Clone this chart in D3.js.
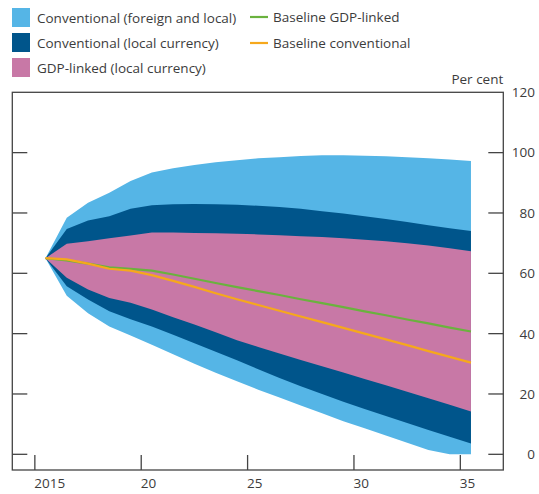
<!DOCTYPE html>
<html>
<head>
<meta charset="utf-8">
<script src="https://cdn.jsdelivr.net/npm/d3@7"></script>
<style>
	body { margin: 0; background: #fff; }
	svg { display: block; font-family: "Open Sans", sans-serif; }
	text { fill: #3c3c3c; }
</style>
</head>
<body>
<svg id="chart" width="539" height="494"></svg>
<script>
/* Data: debt projections, per cent of GDP */
const years = d3.range(2015, 2036);

const convAllHigh = [65, 78.4, 83.4, 86.7, 90.6, 93.4, 94.8, 95.9, 96.8, 97.5, 98.1, 98.5, 98.9, 99.1, 99.1, 99.0, 98.8, 98.5, 98.1, 97.7, 97.2];
const convAllLow = [65, 52.6, 46.8, 42.4, 39.4, 36.3, 33.2, 30.0, 27.0, 24.2, 21.4, 18.8, 16.2, 13.6, 11.0, 8.6, 6.2, 3.8, 1.4, 0, 0];
const convLocalHigh = [65, 74.7, 77.5, 78.9, 81.4, 82.6, 82.9, 83.0, 82.9, 82.7, 82.4, 82.0, 81.4, 80.6, 79.8, 78.9, 78.0, 77.0, 75.9, 74.9, 74.0];
const convLocalLow = [65, 55.7, 51.3, 47.4, 44.8, 42.4, 39.6, 36.8, 34.0, 31.2, 28.2, 25.3, 22.6, 20.0, 17.4, 15.0, 12.7, 10.4, 8.1, 5.8, 3.6];
const gdpHigh = [65, 69.8, 70.6, 71.6, 72.5, 73.5, 73.5, 73.4, 73.3, 73.1, 72.9, 72.6, 72.3, 72.0, 71.6, 71.1, 70.6, 70.0, 69.2, 68.3, 67.3];
const gdpLow = [65, 58.5, 54.6, 51.8, 50.2, 48.0, 45.4, 43.0, 40.5, 37.8, 35.6, 33.4, 31.3, 29.2, 27.1, 25.0, 22.9, 20.7, 18.6, 16.4, 14.2];
const baselineGdp = [65, 64.3, 63.2, 62.0, 61.5, 60.9, 59.6, 58.2, 56.8, 55.4, 54.1, 52.8, 51.4, 50.1, 48.8, 47.4, 46.1, 44.7, 43.4, 42.0, 40.7];
const baselineConv = [65, 64.6, 63.2, 61.5, 60.9, 59.4, 57.5, 55.5, 53.4, 51.4, 49.5, 47.6, 45.7, 43.8, 41.9, 40.0, 38.1, 36.2, 34.2, 32.3, 30.4];

const xTicks = [2015, 2020, 2025, 2030, 2035];
const xTickLabels = ["2015", "20", "25", "30", "35"];
const yTicks = [0, 20, 40, 60, 80, 100, 120];

const bandKeys = ["Conventional (foreign and local)", "Conventional (local currency)", "GDP-linked (local currency)"];
const lineKeys = ["Baseline GDP-linked", "Baseline conventional"];

/* Styles */
const colors = {
	convAll: "#55b5e6",
	convLocal: "#00558b",
	gdp: "#c878a6",
	lineGdp: "#6ab23e",
	lineConv: "#f6a81c",
	axis: "#444"
};

const svg = d3.select("#chart");
const frame = { left: 12.3, right: 503.3, top: 92.3, bottom: 470 };

const xScale = d3.scaleLinear()
	.domain([2013.94, 2037.02])
	.range([frame.left, frame.right]);

const yScale = d3.scaleLinear()
	.domain([-5.2, 120])
	.range([frame.bottom, frame.top]);

// points sit in the middle of each year
const px = (i) => xScale(years[i] + 0.5);

const band = (low, high) => d3.area()
	.x((d, i) => px(i))
	.y0((d, i) => yScale(low[i]))
	.y1((d, i) => yScale(high[i]))(years);

const line = (vals) => d3.line()
	.x((d, i) => px(i))
	.y((d, i) => yScale(vals[i]))(years);

const plot = svg.append("g").attr("class", "plot");

plot.append("path").attr("d", band(convAllLow, convAllHigh)).attr("fill", colors.convAll);
plot.append("path").attr("d", band(convLocalLow, convLocalHigh)).attr("fill", colors.convLocal);
plot.append("path").attr("d", band(gdpLow, gdpHigh)).attr("fill", colors.gdp);

plot.append("path").attr("d", line(baselineGdp))
	.attr("fill", "none").attr("stroke", colors.lineGdp).attr("stroke-width", 2.2);
plot.append("path").attr("d", line(baselineConv))
	.attr("fill", "none").attr("stroke", colors.lineConv).attr("stroke-width", 2.2);

/* Frame and ticks */
const axes = svg.append("g").attr("class", "axes")
	.attr("stroke", colors.axis).attr("stroke-width", 1.3).attr("fill", "none");

axes.append("rect")
	.attr("x", frame.left).attr("y", frame.top)
	.attr("width", frame.right - frame.left)
	.attr("height", frame.bottom - frame.top);

const tickLen = 15;

axes.selectAll(".ytl").data(yTicks.slice(0, -1)).enter()
	.append("line")
	.attr("x1", frame.left).attr("x2", frame.left + tickLen)
	.attr("y1", (d) => yScale(d)).attr("y2", (d) => yScale(d));

axes.selectAll(".ytr").data(yTicks.slice(0, -1)).enter()
	.append("line")
	.attr("x1", frame.right - tickLen).attr("x2", frame.right)
	.attr("y1", (d) => yScale(d)).attr("y2", (d) => yScale(d));

axes.selectAll(".xt").data(xTicks).enter()
	.append("line")
	.attr("x1", (d) => xScale(d)).attr("x2", (d) => xScale(d))
	.attr("y1", frame.bottom - tickLen).attr("y2", frame.bottom);

/* Tick labels */
svg.append("g").selectAll("text").data(yTicks).enter()
	.append("text")
	.attr("x", 535)
	.attr("y", (d) => yScale(d))
	.attr("dy", "0.36em")
	.attr("text-anchor", "end")
	.style("font-size", "13.5px")
	.text((d) => d);

svg.append("g").selectAll("text").data(xTicks).enter()
	.append("text")
	.attr("x", (d) => xScale(d) - 0.5)
	.attr("y", 488)
	.style("font-size", "13.5px")
	.text((d, i) => xTickLabels[i]);

svg.append("text")
	.attr("x", frame.right)
	.attr("y", 84)
	.attr("text-anchor", "end")
	.style("font-size", "13.5px")
	.text("Per cent");

/* Legend */
const bandColors = [colors.convAll, colors.convLocal, colors.gdp];
const legendBands = svg.append("g").attr("class", "legend")
	.selectAll("g").data(bandKeys).enter()
	.append("g")
	.attr("transform", (d, i) => "translate(12," + (8 + i * 25) + ")");

legendBands.append("rect")
	.attr("width", 18).attr("height", 19)
	.attr("fill", (d, i) => bandColors[i]);

legendBands.append("text")
	.attr("x", 25).attr("y", 14.5)
	.style("font-size", "13.5px")
	.text((d) => d);

const lineColors = [colors.lineGdp, colors.lineConv];
const legendLines = svg.append("g").attr("class", "legend")
	.selectAll("g").data(lineKeys).enter()
	.append("g")
	.attr("transform", (d, i) => "translate(250," + (17 + i * 26) + ")");

legendLines.append("line")
	.attr("x1", 0).attr("x2", 18)
	.attr("stroke", (d, i) => lineColors[i]).attr("stroke-width", 2.2);

legendLines.append("text")
	.attr("x", 23).attr("y", 5)
	.style("font-size", "13.5px")
	.text((d) => d);
</script>
</body>
</html>
